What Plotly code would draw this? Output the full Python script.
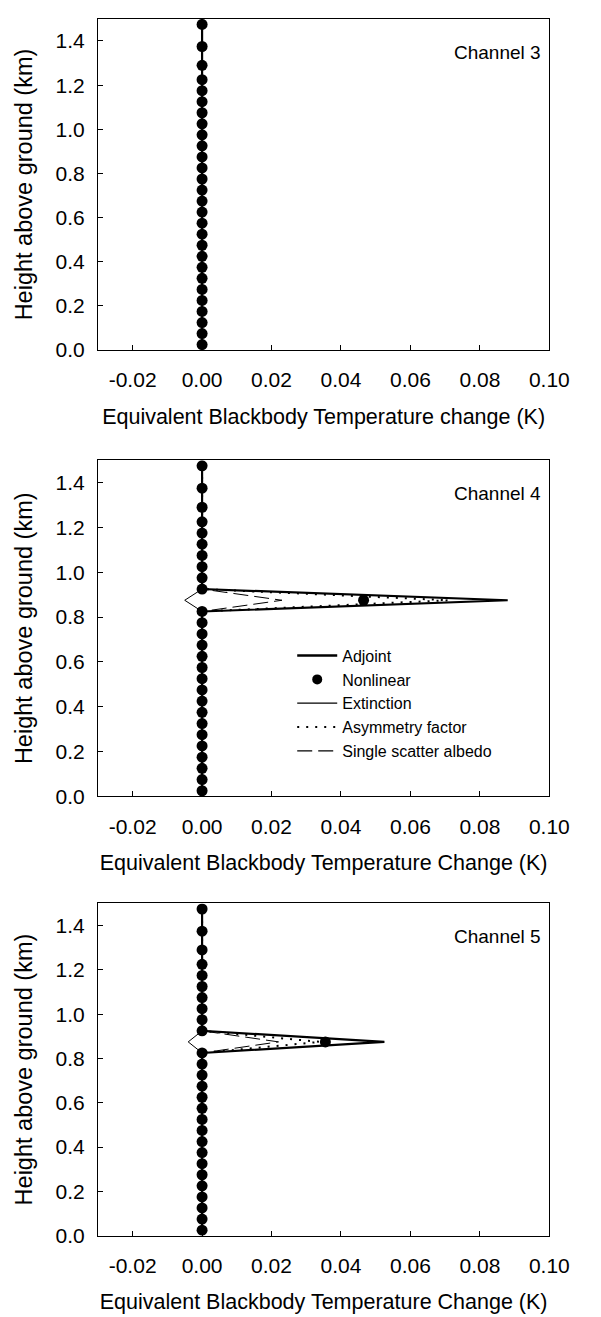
import plotly.graph_objects as go

# ---------------- data ----------------
heights = [0.025, 0.075, 0.125, 0.175, 0.225, 0.275, 0.325, 0.375, 0.425, 0.475,
           0.525, 0.575, 0.625, 0.675, 0.725, 0.775, 0.825, 0.875, 0.925, 0.975,
           1.025, 1.075, 1.125, 1.175, 1.225, 1.29, 1.375, 1.475]

zeros = [0.0] * 28

# Channel 3: everything zero
ch3_adjoint = zeros
ch3_nonlinear = zeros

# Channel 4: response at 0.875 km
ch4_adjoint =    [0, 0, 0, 0, 0, 0, 0, 0, 0, 0, 0, 0, 0, 0, 0, 0, 0, 0.088, 0, 0, 0, 0, 0, 0, 0, 0, 0, 0]
ch4_nonlinear =  [0, 0, 0, 0, 0, 0, 0, 0, 0, 0, 0, 0, 0, 0, 0, 0, 0, 0.0465, 0, 0, 0, 0, 0, 0, 0, 0, 0, 0]
ch4_extinction = [0, 0, 0, 0, 0, 0, 0, 0, 0, 0, 0, 0, 0, 0, 0, 0, 0, -0.005, 0, 0, 0, 0, 0, 0, 0, 0, 0, 0]
ch4_asymmetry =  [0, 0, 0, 0, 0, 0, 0, 0, 0, 0, 0, 0, 0, 0, 0, 0, 0, 0.071, 0, 0, 0, 0, 0, 0, 0, 0, 0, 0]
ch4_ssa =        [0, 0, 0, 0, 0, 0, 0, 0, 0, 0, 0, 0, 0, 0, 0, 0, 0, 0.023, 0, 0, 0, 0, 0, 0, 0, 0, 0, 0]

# Channel 5
ch5_adjoint =    [0, 0, 0, 0, 0, 0, 0, 0, 0, 0, 0, 0, 0, 0, 0, 0, 0, 0.0525, 0, 0, 0, 0, 0, 0, 0, 0, 0, 0]
ch5_nonlinear =  [0, 0, 0, 0, 0, 0, 0, 0, 0, 0, 0, 0, 0, 0, 0, 0, 0, 0.0355, 0, 0, 0, 0, 0, 0, 0, 0, 0, 0]
ch5_extinction = [0, 0, 0, 0, 0, 0, 0, 0, 0, 0, 0, 0, 0, 0, 0, 0, 0, -0.004, 0, 0, 0, 0, 0, 0, 0, 0, 0, 0]
ch5_asymmetry =  [0, 0, 0, 0, 0, 0, 0, 0, 0, 0, 0, 0, 0, 0, 0, 0, 0, 0.034, 0, 0, 0, 0, 0, 0, 0, 0, 0, 0]
ch5_ssa =        [0, 0, 0, 0, 0, 0, 0, 0, 0, 0, 0, 0, 0, 0, 0, 0, 0, 0.022, 0, 0, 0, 0, 0, 0, 0, 0, 0, 0]

x_ticks = [-0.02, 0.00, 0.02, 0.04, 0.06, 0.08, 0.10]
x_tick_labels = ["-0.02", "0.00", "0.02", "0.04", "0.06", "0.08", "0.10"]
y_ticks = [0.0, 0.2, 0.4, 0.6, 0.8, 1.0, 1.2, 1.4]
y_tick_labels = ["0.0", "0.2", "0.4", "0.6", "0.8", "1.0", "1.2", "1.4"]

channel_names = ["Channel 3", "Channel 4", "Channel 5"]
x_titles = ["Equivalent Blackbody Temperature change (K)",
            "Equivalent Blackbody Temperature Change (K)",
            "Equivalent Blackbody Temperature Change (K)"]
y_title = "Height above ground (km)"

# ---------------- layout helpers ----------------
W, H = 601, 1317
FONT = "Liberation Sans, Arial, sans-serif"
x_px = (93, 560)
panels_px = [(11, 345), (456, 795), (903, 1238)]

TICK_SIZE = 21
XTITLE_SIZE = 21.5
YTITLE_SIZE = 23.5
DOT_DASH = "2px,7px"
LONG_DASH = "15px,6px"


def ydom(top, bot):
    return [1 - bot / H, 1 - top / H]


fig = go.Figure()

series = [
    (ch3_adjoint, ch3_nonlinear, None, None, None),
    (ch4_adjoint, ch4_nonlinear, ch4_extinction, ch4_asymmetry, ch4_ssa),
    (ch5_adjoint, ch5_nonlinear, ch5_extinction, ch5_asymmetry, ch5_ssa),
]

for i, (adj, nl, ext, asy, ssa) in enumerate(series):
    suffix = "" if i == 0 else str(i + 1)
    xa, ya = "x" + suffix, "y" + suffix
    if ext is not None:
        fig.add_trace(go.Scatter(x=ext, y=heights, mode="lines", name="Extinction",
                                 line=dict(color="black", width=1),
                                 xaxis=xa, yaxis=ya, showlegend=False))
        fig.add_trace(go.Scatter(x=asy, y=heights, mode="lines", name="Asymmetry factor",
                                 line=dict(color="black", width=2, dash=DOT_DASH),
                                 xaxis=xa, yaxis=ya, showlegend=False))
        fig.add_trace(go.Scatter(x=ssa, y=heights, mode="lines", name="Single scatter albedo",
                                 line=dict(color="black", width=1, dash=LONG_DASH),
                                 xaxis=xa, yaxis=ya, showlegend=False))
    fig.add_trace(go.Scatter(x=adj, y=heights, mode="lines", name="Adjoint",
                             line=dict(color="black", width=2.2),
                             xaxis=xa, yaxis=ya, showlegend=False))
    fig.add_trace(go.Scatter(x=nl, y=heights, mode="markers", name="Nonlinear",
                             marker=dict(color="black", size=11),
                             xaxis=xa, yaxis=ya, showlegend=False))

# legend-only entries (same style, drawn once inside the Channel 4 panel)
legend_items = [
    ("Adjoint", dict(mode="lines", line=dict(color="black", width=2.5))),
    ("Nonlinear", dict(mode="markers", marker=dict(color="black", size=10))),
    ("Extinction", dict(mode="lines", line=dict(color="black", width=1.2))),
    ("Asymmetry factor", dict(mode="lines", line=dict(color="black", width=2, dash=DOT_DASH))),
    ("Single scatter albedo", dict(mode="lines", line=dict(color="black", width=1.2, dash=LONG_DASH))),
]
for name, kw in legend_items:
    fig.add_trace(go.Scatter(x=[None], y=[None], name=name, xaxis="x2", yaxis="y2",
                             showlegend=True, **kw))

layout = dict(
    width=W, height=H,
    margin=dict(l=0, r=0, t=0, b=0),
    paper_bgcolor="white", plot_bgcolor="white",
    font=dict(family=FONT, color="black", size=18),
    showlegend=True,
    legend=dict(x=294 / W, y=1 - 636 / H, xanchor="left", yanchor="top",
                bgcolor="rgba(0,0,0,0)", font=dict(size=16, family=FONT),
                tracegroupgap=0, itemwidth=40),
    annotations=[],
)

for i, (top, bot) in enumerate(panels_px):
    suffix = "" if i == 0 else str(i + 1)
    layout["xaxis" + suffix] = dict(
        domain=[x_px[0] / W, x_px[1] / W], anchor="y" + suffix,
        range=[-0.03, 0.10], tickvals=x_ticks, ticktext=x_tick_labels,
        ticks="inside", ticklen=5, tickcolor="black",
        showline=True, linecolor="black", linewidth=1, mirror=True,
        showgrid=False, zeroline=False, ticklabelstandoff=11,
        tickfont=dict(size=TICK_SIZE, family=FONT),
        title=dict(text=x_titles[i], font=dict(size=XTITLE_SIZE, family=FONT), standoff=18),
    )
    layout["yaxis" + suffix] = dict(
        domain=ydom(top, bot), anchor="x" + suffix,
        range=[0, 1.5], tickvals=y_ticks, ticktext=y_tick_labels,
        ticks="inside", ticklen=5, tickcolor="black",
        showline=True, linecolor="black", linewidth=1, mirror=True,
        showgrid=False, zeroline=False, ticklabelstandoff=8,
        tickfont=dict(size=TICK_SIZE, family=FONT),
        title=dict(text=y_title, font=dict(size=YTITLE_SIZE, family=FONT), standoff=16),
    )
    layout["annotations"].append(dict(
        text=channel_names[i], xref="x" + suffix + " domain", yref="y" + suffix + " domain",
        x=0.785, y=0.9, xanchor="left", yanchor="middle", showarrow=False,
        font=dict(size=19, family=FONT)))

fig.update_layout(**layout)
fig.write_html("out.html")
